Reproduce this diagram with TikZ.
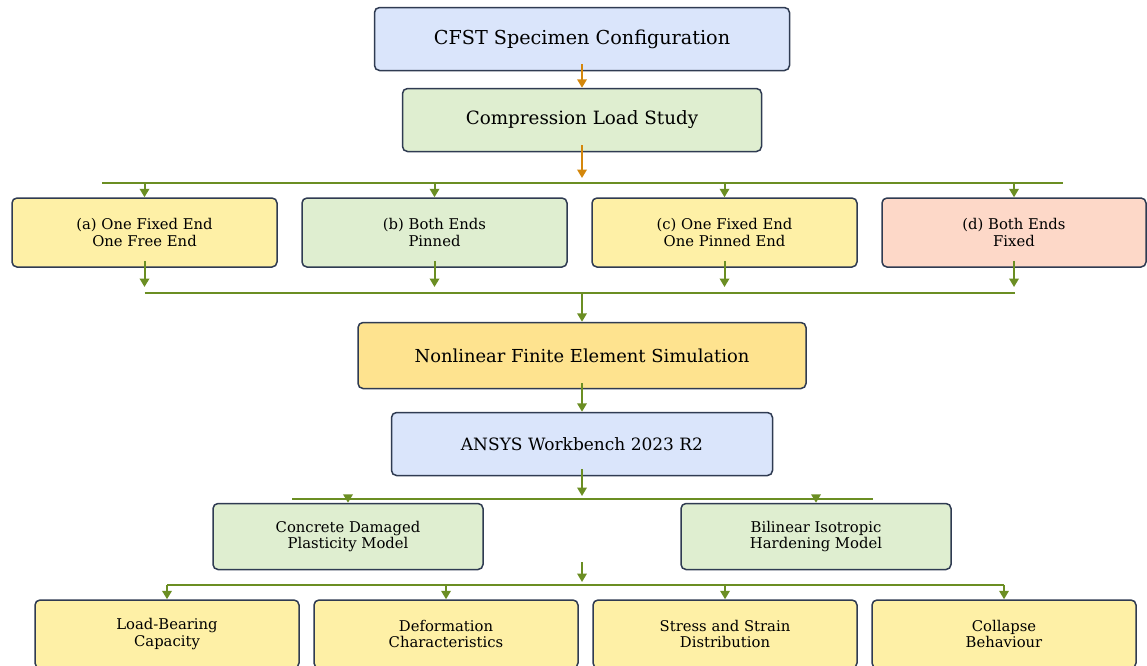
\documentclass[tikz,border=0pt]{standalone}
\usepackage{fontspec}
\setmainfont{DejaVu Serif}
\usetikzlibrary{arrows.meta,calc}
\definecolor{edgec}{HTML}{2F3B52}
\definecolor{bluef}{HTML}{DAE5FB}
\definecolor{greenf}{HTML}{DFEED0}
\definecolor{yellowf}{HTML}{FEF0A6}
\definecolor{goldf}{HTML}{FEE38F}
\definecolor{peachf}{HTML}{FDD8C8}
\definecolor{gline}{HTML}{6B8E23}
\definecolor{oline}{HTML}{D4870C}
\begin{document}
\begin{tikzpicture}[x=1pt,y=-1pt,
  box/.style={draw=edgec,line width=1.5pt,rounded corners=5pt,inner sep=0pt,align=center},
  toptxt/.style={font=\fontsize{19.2}{22}\selectfont},
  bigtxt/.style={font=\fontsize{18.3}{21}\selectfont},
  nltxt/.style={font=\fontsize{17.9}{21}\selectfont},
  midtxt/.style={font=\fontsize{17}{20}\selectfont},
  smalltxt/.style={font=\fontsize{14.8}{16.3}\selectfont},
  gl/.style={draw=gline,line width=2pt},
  ga/.style={draw=gline,line width=2pt,-{Triangle[width=9.5pt,length=8.5pt]},fill=gline},
  oa/.style={draw=oline,line width=2pt,-{Triangle[width=9.5pt,length=8.5pt]},fill=oline}]
\useasboundingbox (0,0) rectangle (1147,665);

% nodes
\node[box,toptxt,fill=bluef,minimum width=415pt,minimum height=63pt] (cfst) at (582,39) {CFST Specimen Configuration};
\node[box,bigtxt,fill=greenf,minimum width=359pt,minimum height=63pt] (cls) at (582,120) {Compression Load Study};

\node[box,smalltxt,fill=yellowf,minimum width=265pt,minimum height=69pt] (a) at (144.5,232.5) {(a) One Fixed End\\One Free End};
\node[box,smalltxt,fill=greenf,minimum width=265pt,minimum height=69pt] (b) at (434.5,232.5) {(b) Both Ends\\Pinned};
\node[box,smalltxt,fill=yellowf,minimum width=265pt,minimum height=69pt] (c) at (724.5,232.5) {(c) One Fixed End\\One Pinned End};
\node[box,smalltxt,fill=peachf,minimum width=264pt,minimum height=69pt] (d) at (1014,232.5) {(d) Both Ends\\Fixed};

\node[box,nltxt,fill=goldf,minimum width=448pt,minimum height=66pt] (nfes) at (582,355.5) {Nonlinear Finite Element Simulation};
\node[box,midtxt,fill=bluef,minimum width=381pt,minimum height=63pt] (ansys) at (582,444) {ANSYS Workbench 2023 R2};

\node[box,smalltxt,fill=greenf,minimum width=270pt,minimum height=66pt] (cdp) at (348,536.5) {Concrete Damaged\\Plasticity Model};
\node[box,smalltxt,fill=greenf,minimum width=270pt,minimum height=66pt] (bih) at (816,536.5) {Bilinear Isotropic\\Hardening Model};

\node[box,smalltxt,fill=yellowf,minimum width=264pt,minimum height=68pt] (o1) at (167,634) {Load-Bearing\\Capacity};
\node[box,smalltxt,fill=yellowf,minimum width=264pt,minimum height=68pt] (o2) at (446,634) {Deformation\\Characteristics};
\node[box,smalltxt,fill=yellowf,minimum width=264pt,minimum height=68pt] (o3) at (725,634) {Stress and Strain\\Distribution};
\node[box,smalltxt,fill=yellowf,minimum width=264pt,minimum height=68pt] (o4) at (1004,634) {Collapse\\Behaviour};

% bus coordinates
\coordinate (b1L) at (102,183);
\coordinate (b1R) at (1063,183);
\coordinate (b1end) at (582,178);
\coordinate (b2L) at (144.5,293);
\coordinate (b2R) at (1015,293);
\coordinate (b3L) at (292,499);
\coordinate (b3R) at (873,499);
\coordinate (b3end) at (582,496);
\coordinate (b4L) at (167,585);
\coordinate (b4R) at (1004,585);
\coordinate (m4s) at (582,562);
\coordinate (m4e) at (582,582);

% connectors
\draw[oa] ([yshift=7pt]cfst.south) -- (cls.north);
\draw[oa] ([yshift=7pt]cls.south) -- (b1end);
\draw[gl] (b1L) -- (b1R);
\foreach \n in {a,b,c,d}{
  \draw[ga] (\n.north |- b1L) -- (\n.north);
  \draw[ga] ([yshift=7pt]\n.south) -- ([yshift=6pt]\n.south |- b2L);
}
\draw[gl] (b2L) -- (b2R);
\draw[ga] (nfes.north |- b2L) -- (nfes.north);
\draw[ga] ([yshift=6pt]nfes.south) -- (ansys.north);
\draw[ga] ([yshift=7pt]ansys.south) -- (b3end);
\draw[gl] (b3L) -- (b3R);
\draw[ga] (cdp.north |- b3L) -- (cdp.north);
\draw[ga] (bih.north |- b3L) -- (bih.north);
\draw[ga] (m4s) -- (m4e);
\draw[gl] (b4L) -- (b4R);
\foreach \n in {o1,o2,o3,o4}{
  \draw[ga] (\n.north |- b4L) -- (\n.north);
}
\end{tikzpicture}
\end{document}
